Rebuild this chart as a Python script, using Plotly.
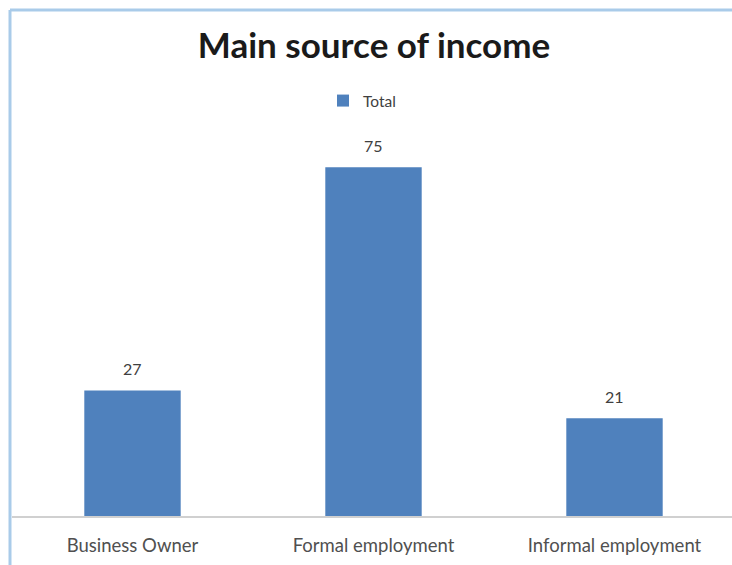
import plotly.graph_objects as go

# Data
categories = ["Business Owner", "Formal employment", "Informal employment"]
totals = [27, 75, 21]
series_name = "Total"

BAR_COLOR = "#4f81bd"
FONT = "Lato"

W, H = 732, 565
L, R, T, B = 12, 0, 144, 49
plot_w = W - L - R
plot_h = H - T - B


def px_x(px):
    return (px - L) / plot_w


def px_y(py):
    return (H - B - py) / plot_h


fig = go.Figure(
    go.Bar(
        x=categories,
        y=totals,
        name=series_name,
        marker=dict(color=BAR_COLOR, line=dict(width=0)),
        width=0.4,
        showlegend=True,
    )
)

# value labels above each bar
for cat, val in zip(categories, totals):
    fig.add_annotation(
        x=cat, y=val, text=str(val), showarrow=False,
        yanchor="bottom", yshift=10,
        font=dict(family=FONT, size=16, color="#404040"),
    )

# light blue frame along the top and left edges
frame = "#a9cbe9"
fig.add_shape(type="line", xref="paper", yref="paper",
              x0=px_x(10), x1=px_x(W + 5), y0=px_y(10), y1=px_y(10),
              line=dict(color=frame, width=3))
fig.add_shape(type="line", xref="paper", yref="paper",
              x0=px_x(10), x1=px_x(10), y0=px_y(10), y1=px_y(H + 5),
              line=dict(color=frame, width=3))

fig.update_layout(
    width=W, height=H,
    margin=dict(l=L, r=R, t=T, b=B, pad=0),
    paper_bgcolor="white",
    plot_bgcolor="white",
    font=dict(family=FONT, color="#404040"),
    title=dict(
        text="<b>Main source of income</b>",
        x=374 / W, xanchor="center",
        y=1 - 46 / H, yanchor="middle",
        font=dict(family=FONT, size=35, color="#1a1a1a"),
    ),
    legend=dict(
        orientation="h", x=px_x(362), xanchor="center",
        y=px_y(101), yanchor="middle",
        font=dict(family=FONT, size=15.5, color="#404040"),
        itemwidth=30,
    ),
    xaxis=dict(
        range=[-0.5, -0.5 + plot_w / 241],
        showline=True, linecolor="#d0d0d0", linewidth=2,
        showgrid=False, ticks="", ticklabelstandoff=12,
        tickfont=dict(family=FONT, size=18.5, color="#505050"),
        fixedrange=True,
    ),
    yaxis=dict(
        range=[0, 80], visible=False, showgrid=False, zeroline=False,
    ),
)

fig.write_html("out.html")
